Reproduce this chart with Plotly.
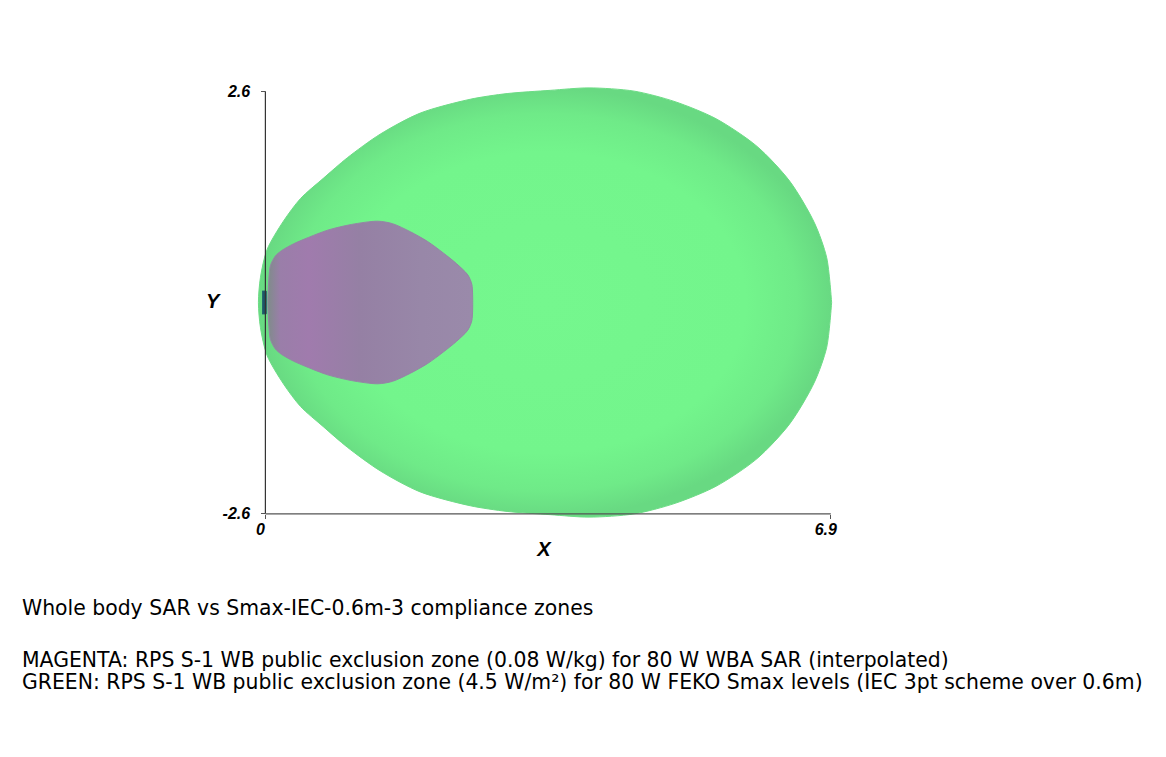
import plotly.graph_objects as go

green_x = [-0.085, -0.06, 0.02, 0.22, 0.43, 0.71, 1.00, 1.40, 1.89, 2.50, 2.95, 3.48, 3.95, 4.50, 5.00, 5.50, 6.00, 6.40, 6.70, 6.85, 6.91]
green_r = [0.0, 0.31, 0.65, 1.00, 1.28, 1.53, 1.78, 2.07, 2.33, 2.50, 2.57, 2.61, 2.64, 2.60, 2.47, 2.26, 1.92, 1.49, 0.98, 0.55, 0.0]

magenta_x = [0.03, 0.04, 0.06, 0.12, 0.20, 0.34, 0.50, 0.76, 1.05, 1.37, 1.55, 1.77, 1.98, 2.17, 2.33, 2.47, 2.52, 2.53]
magenta_r = [0.0, 0.25, 0.45, 0.57, 0.64, 0.72, 0.79, 0.89, 0.96, 1.00, 0.97, 0.87, 0.75, 0.61, 0.48, 0.34, 0.22, 0.0]

antenna_x = [-0.04, 0.01]
antenna_r = 0.14

x_ticks = [0, 6.9]
y_ticks = [-2.6, 2.6]

caption_lines = [
    "Whole body SAR vs Smax-IEC-0.6m-3 compliance zones",
    "MAGENTA: RPS S-1 WB public exclusion zone (0.08 W/kg) for 80 W WBA SAR (interpolated)",
    "GREEN: RPS S-1 WB public exclusion zone (4.5 W/m\u00b2) for 80 W FEKO Smax levels (IEC 3pt scheme over 0.6m)",
]
caption_rows = [608, 660, 682]   # pixel rows of the caption lines in the window

W, H = 1166, 757
PAGE_OFFSET = 8   # body margin of the html page
X_RANGE = [-0.2, 7.0]
Y_RANGE = [-2.7, 2.7]
MARGIN = dict(l=241, r=335, t=75, b=243)
LABEL_FONT = dict(family="Liberation Sans", color="black", weight="bold", style="italic")


def outline(xs, rs):
    # close the zone: upper edge left->right, lower edge back
    return xs + xs[::-1], rs + [-r for r in rs[::-1]]


def paper_y(px):
    px -= PAGE_OFFSET
    plot_h = H - MARGIN["t"] - MARGIN["b"]
    return (H - MARGIN["b"] - px) / plot_h


def paper_x(px):
    px -= PAGE_OFFSET
    plot_w = W - MARGIN["l"] - MARGIN["r"]
    return (px - MARGIN["l"]) / plot_w


fig = go.Figure()

gx, gy = outline(green_x, green_r)
fig.add_trace(go.Scatter(
    x=gx, y=gy, mode="lines", fill="toself",
    line=dict(color="#6cdc85", width=1, shape="spline", smoothing=0.8),
    fillgradient=dict(type="radial", colorscale=[[0, "#75f78e"], [0.7, "#73f58c"], [0.88, "#6fea88"], [1, "#68d982"]]),
    hoverinfo="skip", showlegend=False,
))

mx, my = outline(magenta_x, magenta_r)
fig.add_trace(go.Scatter(
    x=mx, y=my, mode="lines", fill="toself",
    line=dict(color="#9486a4", width=1, shape="spline", smoothing=0.8),
    fillgradient=dict(type="horizontal", colorscale=[
        [0, "#7f8c8a"], [0.06, "#9a7ea9"], [0.2, "#a07bad"], [0.45, "#9580a4"], [0.75, "#9887a8"], [1, "#9a8aaa"],
    ]),
    hoverinfo="skip", showlegend=False,
))

ax, ay = outline(antenna_x, [antenna_r, antenna_r])
fig.add_trace(go.Scatter(
    x=ax, y=ay, mode="lines", fill="toself", fillcolor="#1d566a",
    line=dict(color="#1d566a", width=1), hoverinfo="skip", showlegend=False,
))

# axis lines only between the end ticks, like the 3D viewer draws them
fig.add_shape(type="line", x0=0, x1=0, y0=y_ticks[0], y1=y_ticks[1], line=dict(color="#333", width=1.2))
fig.add_shape(type="line", x0=x_ticks[0], x1=x_ticks[1], y0=y_ticks[0], y1=y_ticks[0], line=dict(color="#555", width=1.2))

for text, row in zip(caption_lines, caption_rows):
    fig.add_annotation(
        text=text, xref="paper", yref="paper", x=paper_x(20), y=paper_y(row),
        xanchor="left", yanchor="middle", showarrow=False,
        font=dict(family="DejaVu Sans", size=20.4, color="black"),
    )

# upright Y label, as in the viewer
fig.add_annotation(
    text="Y", xref="paper", yref="paper", x=paper_x(213), y=paper_y(301),
    xanchor="center", yanchor="middle", showarrow=False,
    font=dict(size=20, **LABEL_FONT),
)

fig.update_layout(
    width=W, height=H, margin=MARGIN,
    paper_bgcolor="white", plot_bgcolor="white",
    xaxis=dict(
        range=X_RANGE, showgrid=False, zeroline=False, showline=False,
        tickvals=x_ticks, ticktext=[f"{v:g}" for v in x_ticks],
        ticks="outside", ticklen=4, tickcolor="#555", ticklabelshift=-5, ticklabelstandoff=-3,
        tickfont=dict(size=16, **LABEL_FONT),
        anchor="free", position=(y_ticks[0] - Y_RANGE[0]) / (Y_RANGE[1] - Y_RANGE[0]),
        title=dict(text="X", font=dict(size=20, **LABEL_FONT), standoff=4),
    ),
    yaxis=dict(
        range=Y_RANGE, showgrid=False, zeroline=False, showline=False,
        tickvals=y_ticks, ticktext=[f"{v:g}" for v in y_ticks],
        ticks="outside", ticklen=4, tickcolor="#555", ticklabelstandoff=8,
        tickfont=dict(size=16, **LABEL_FONT),
        anchor="free", position=(0 - X_RANGE[0]) / (X_RANGE[1] - X_RANGE[0]),
    ),
)

fig.write_html("out.html")
